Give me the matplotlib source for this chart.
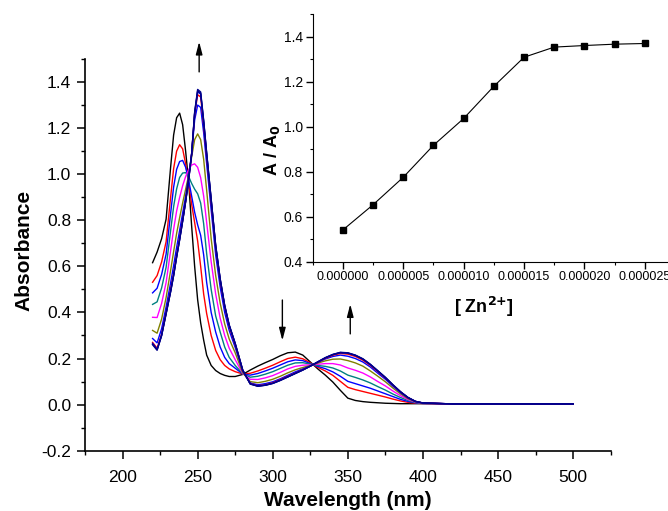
import numpy as np
import matplotlib
matplotlib.use("Agg")
import matplotlib.pyplot as plt
from matplotlib.ticker import MultipleLocator, FormatStrFormatter

plt.rcParams['font.family'] = ['Liberation Sans', 'DejaVu Sans']

# wavelength grid (nm)
wl = [220, 223, 226, 229, 232, 234, 236, 238, 240, 242, 244, 246, 248, 250, 252, 254, 256,
      259, 262, 265, 268, 271, 275, 280, 285, 290, 295, 300, 305, 310, 315, 320, 325, 330,
      335, 340, 345, 350, 355, 360, 365, 370, 375, 380, 385, 390, 395, 400, 420, 460, 500]

# absorbance spectra, from free ligand (abs_0) to saturation (abs_10)
abs_0 = [.616, .662, .720, .805, 1.030, 1.170, 1.245, 1.265, 1.215, 1.100, .965, .775, .600, .455, .355, .280, .215,
         .170, .148, .135, .127, .122, .122, .131, .150, .167, .182, .196, .212, .225, .228, .215, .185, .155,
         .128, .098, .062, .028, .018, .013, .010, .008, .006, .005, .004, .004, .004, .004, .003, .003, .003]
abs_1 = [.531, .560, .619, .707, .900, 1.024, 1.100, 1.128, 1.110, 1.045, .960, .870, .790, .710, .600, .480, .395,
         .300, .235, .195, .170, .155, .143, .133, .136, .146, .158, .171, .186, .200, .206, .199, .181, .162,
         .146, .127, .101, .075, .065, .057, .049, .041, .033, .024, .016, .010, .006, .005, .003, .003, .003]
abs_2 = [.485, .505, .565, .653, .830, .944, 1.021, 1.055, 1.060, 1.030, .975, .905, .835, .780, .735, .650, .530,
         .400, .315, .250, .205, .178, .158, .133, .128, .135, .146, .158, .172, .186, .194, .191, .178, .166,
         .156, .142, .123, .101, .091, .081, .071, .059, .047, .035, .023, .014, .008, .005, .003, .003, .003]
abs_3 = [.435, .446, .506, .596, .755, .859, .936, .986, 1.005, 1.007, .990, .960, .935, .915, .875, .785, .655,
         .500, .385, .315, .250, .205, .170, .134, .119, .123, .132, .143, .157, .171, .181, .182, .176, .170,
         .166, .159, .146, .128, .118, .107, .094, .078, .063, .046, .031, .018, .009, .006, .003, .003, .003]
abs_4 = [.379, .378, .439, .530, .668, .761, .840, .899, .950, .990, 1.020, 1.040, 1.045, 1.030, .985, .905, .790,
         .620, .480, .375, .300, .245, .195, .135, .110, .109, .116, .126, .140, .155, .166, .171, .173, .175,
         .178, .178, .172, .159, .149, .137, .120, .100, .081, .059, .039, .022, .011, .006, .003, .003, .003]
abs_5 = [.322, .310, .371, .465, .582, .664, .743, .811, .875, .935, .995, 1.075, 1.150, 1.175, 1.150, 1.065, .930,
         .720, .560, .440, .350, .285, .225, .138, .100, .095, .101, .110, .123, .138, .151, .161, .170, .180,
         .190, .197, .198, .191, .181, .167, .146, .123, .099, .072, .047, .026, .012, .006, .003, .003, .003]
abs_6 = [.287, .268, .329, .424, .528, .603, .682, .756, .830, .905, .990, 1.090, 1.235, 1.300, 1.290, 1.180, 1.045,
         .845, .650, .510, .400, .322, .248, .145, .094, .086, .091, .099, .112, .127, .142, .155, .168, .183,
         .198, .209, .215, .210, .200, .185, .163, .136, .110, .080, .052, .029, .013, .007, .003, .003, .003]
abs_7 = [.270, .245, .305, .400, .498, .568, .648, .724, .802, .884, .980, 1.088, 1.260, 1.345, 1.335, 1.215, 1.078,
         .880, .682, .538, .425, .340, .260, .148, .092, .082, .086, .095, .108, .123, .137, .152, .167, .184,
         .201, .214, .222, .219, .209, .193, .170, .143, .115, .084, .055, .030, .014, .007, .003, .003, .003]
abs_8 = [.266, .240, .302, .397, .493, .563, .643, .718, .798, .882, .977, 1.086, 1.263, 1.357, 1.348, 1.226, 1.087,
         .888, .688, .543, .428, .344, .264, .150, .091, .081, .085, .093, .106, .121, .136, .151, .167, .185,
         .203, .217, .225, .223, .213, .197, .173, .145, .117, .085, .056, .031, .014, .007, .003, .003, .003]
abs_9 = [.262, .238, .300, .395, .490, .560, .640, .715, .795, .880, .975, 1.085, 1.265, 1.362, 1.352, 1.230, 1.090,
         .890, .690, .545, .430, .345, .265, .150, .090, .080, .084, .092, .105, .120, .135, .150, .167, .185,
         .203, .217, .226, .224, .214, .198, .174, .146, .118, .086, .056, .031, .014, .007, .003, .003, .003]
abs_10 = [.260, .236, .299, .394, .490, .560, .641, .716, .797, .883, .978, 1.090, 1.270, 1.368, 1.357, 1.234, 1.093,
          .892, .692, .546, .431, .346, .266, .150, .089, .080, .084, .092, .105, .120, .135, .150, .167, .186,
          .204, .218, .227, .225, .215, .199, .175, .147, .118, .086, .056, .031, .014, .007, .003, .003, .003]

spectra = [abs_0, abs_1, abs_2, abs_3, abs_4, abs_5, abs_6, abs_7, abs_8, abs_9, abs_10]
colors = ['black', '#FF0000', '#0000FF', '#008080', '#FF00FF', '#808000',
          '#0000FF', '#FF0000', '#0000CD', '#000080', '#00008B']

# inset titration curve
zn_conc = [0.0, 2.5e-6, 5e-6, 7.5e-6, 1e-5, 1.25e-5, 1.5e-5, 1.75e-5, 2e-5, 2.25e-5, 2.5e-5]
ratio = [0.541, 0.653, 0.775, 0.917, 1.036, 1.179, 1.308, 1.353, 1.360, 1.366, 1.369]

W, H = 668, 511
fig = plt.figure(figsize=(W / 100, H / 100), dpi=100)

def frac(x0, y0, x1, y1):
    # pixel box -> figure fraction
    return [x0 / W, 1 - y1 / H, (x1 - x0) / W, (y1 - y0) / H]

ax = fig.add_axes(frac(85, 59, 610.7, 450.7))
for s, c in zip(spectra, colors):
    assert len(s) == len(wl)
    ax.plot(wl, s, color=c, lw=1.0)

ax.set_xlim(175, 525)
ax.set_ylim(-0.2, 1.5)
ax.xaxis.set_major_locator(MultipleLocator(50))
ax.xaxis.set_minor_locator(MultipleLocator(25))
ax.yaxis.set_major_locator(MultipleLocator(0.2))
ax.yaxis.set_minor_locator(MultipleLocator(0.1))
ax.yaxis.set_major_formatter(FormatStrFormatter('%.1f'))
ax.set_yticks(np.arange(-0.2, 1.41, 0.2))
for sp in ['top', 'right']:
    ax.spines[sp].set_visible(False)
for sp in ['left', 'bottom']:
    ax.spines[sp].set_linewidth(1.2)
ax.tick_params(which='major', length=6, width=1.1, labelsize=12.5, direction='out')
ax.tick_params(which='minor', length=3, width=1.0, direction='out')
ax.tick_params(axis='x', which='major', pad=8)
ax.tick_params(axis='y', which='major', pad=4)

fig.text(24 / W, 1 - 250 / H, 'Absorbance', rotation=90, fontsize=15, fontweight='bold',
         ha='center', va='center')
fig.text(347.5 / W, 1 - 500 / H, 'Wavelength (nm)', fontsize=15, fontweight='bold',
         ha='center', va='center')

arrow = dict(arrowstyle='-|>,head_length=0.5,head_width=0.13', color='black', lw=1.0,
             mutation_scale=15, shrinkA=0, shrinkB=0)
ax.annotate('', xy=(251, 1.575), xytext=(251, 1.444), arrowprops=arrow, annotation_clip=False)
ax.annotate('', xy=(306.4, 0.278), xytext=(306.4, 0.454), arrowprops=arrow)
ax.annotate('', xy=(351.6, 0.436), xytext=(351.6, 0.307), arrowprops=arrow)

# inset
ins = fig.add_axes(frac(312.7, 14, 675, 261.7))
ins.patch.set_alpha(0)
ins.plot(zn_conc, ratio, color='black', lw=0.8, marker='s', markersize=5)
ins.set_xlim(-2.5e-6, 2.75e-5)
ins.set_ylim(0.4, 1.5)
ins.xaxis.set_major_locator(MultipleLocator(5e-6))
ins.xaxis.set_minor_locator(MultipleLocator(2.5e-6))
ins.xaxis.set_major_formatter(FormatStrFormatter('%.6f'))
ins.yaxis.set_major_locator(MultipleLocator(0.2))
ins.yaxis.set_minor_locator(MultipleLocator(0.1))
ins.yaxis.set_major_formatter(FormatStrFormatter('%.1f'))
ins.set_yticks(np.arange(0.4, 1.41, 0.2))
for sp in ['top', 'right']:
    ins.spines[sp].set_visible(False)
ins.tick_params(which='major', length=5, width=1.0, direction='out')
ins.tick_params(which='minor', length=2.5, width=0.8, direction='out')
ins.tick_params(axis='x', labelsize=9, pad=1.5)
ins.tick_params(axis='y', labelsize=10, pad=2)

fig.text(272 / W, 1 - 150 / H, r'A / A$_\mathbf{0}$', rotation=90, fontsize=13,
         fontweight='bold', ha='center', va='center')
fig.text(484 / W, 1 - 307 / H, r'[ Zn$^{\mathbf{2{+}}}$]', fontsize=13, fontweight='bold',
         ha='center', va='center')

fig.savefig('out.png', dpi=100)
